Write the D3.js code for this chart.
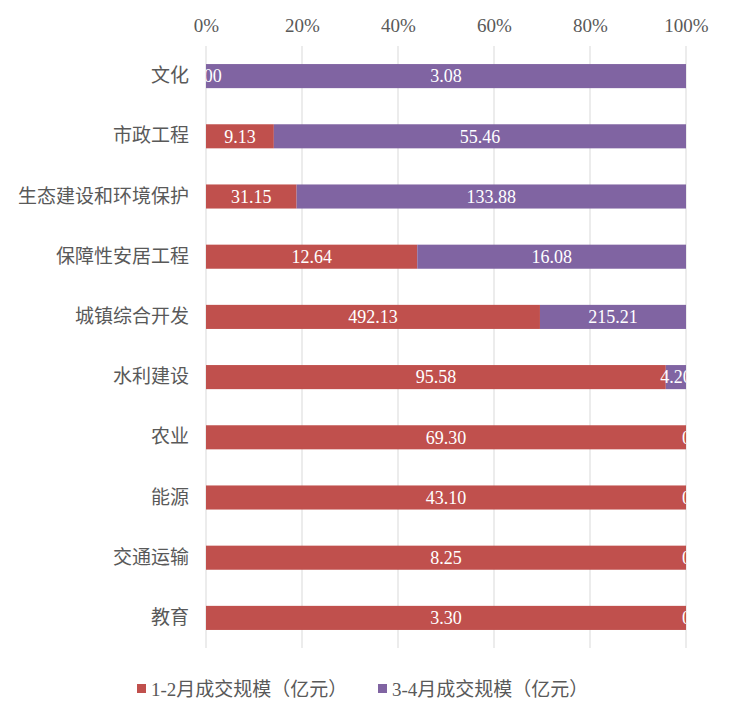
<!DOCTYPE html>
<html><head><meta charset="utf-8">
<script src="https://cdn.jsdelivr.net/npm/d3@7"></script>
<style>body{margin:0;background:#fff}</style>
</head><body>
<svg id="c" width="732" height="720"></svg>
<script>
const categories = ["文化","市政工程","生态建设和环境保护","保障性安居工程","城镇综合开发","水利建设","农业","能源","交通运输","教育"];
const seriesNames = ["1-2月成交规模（亿元）","3-4月成交规模（亿元）"];
const s1 = [0.00, 9.13, 31.15, 12.64, 492.13, 95.58, 69.30, 43.10, 8.25, 3.30];
const s2 = [3.08, 55.46, 133.88, 16.08, 215.21, 4.20, 0.00, 0.00, 0.00, 0.00];
const tickValues = [0, 0.2, 0.4, 0.6, 0.8, 1];
const colors = ["#C0504D", "#8064A2"];

(function(){
const font = "'Liberation Serif','Noto Sans CJK SC',serif";
const svg = d3.select("#c");
const pL = 206, pR = 686, pT = 46, pB = 648;
const x = d3.scaleLinear().domain([0,1]).range([pL,pR]);
const y = d3.scaleBand().domain(categories).range([pT,pB]).paddingInner(0.6).paddingOuter(0.3);

svg.append("g").selectAll("line").data(tickValues).join("line")
  .attr("x1", d=>x(d)).attr("x2", d=>x(d)).attr("y1", pT).attr("y2", pB)
  .attr("stroke", "#d9d9d9").attr("stroke-width", 1);

const ax = svg.append("g").attr("transform", `translate(0,32)`)
  .call(d3.axisTop(x).tickValues(tickValues).tickFormat(d3.format(".0%")).tickSize(0).tickPadding(0));
ax.select(".domain").remove();
ax.selectAll("text").attr("font-family", font).attr("font-size", 19).attr("fill", "#595959").attr("dy", "0");

const ay = svg.append("g").attr("transform", `translate(${pL-17},0)`)
  .call(d3.axisLeft(y).tickSize(0).tickPadding(0));
ay.select(".domain").remove();
ay.selectAll("text").attr("font-family", font).attr("font-size", 19).attr("fill", "#595959");

const rows = categories.map((c,i)=>{
  const t = s1[i]+s2[i];
  return {c, v:[s1[i], s2[i]], p:[s1[i]/t, s2[i]/t]};
});

svg.append("defs").append("clipPath").attr("id","plot")
  .append("rect").attr("x", pL).attr("y", pT).attr("width", pR-pL).attr("height", pB-pT);

const bars = svg.append("g");
const labels = svg.append("g").attr("clip-path","url(#plot)");
rows.forEach(r=>{
  let acc = 0;
  r.p.forEach((p,k)=>{
    const x0 = x(acc), x1 = x(acc+p);
    if (p>0) bars.append("rect").attr("x", x0).attr("y", y(r.c)).attr("width", x1-x0)
      .attr("height", y.bandwidth()).attr("fill", colors[k]);
    const atEnd = p===0 && k===r.p.length-1;
    labels.append("text").attr("x", atEnd ? x1-4 : (x0+x1)/2).attr("y", y(r.c)+y.bandwidth()/2)
      .attr("dy","0.35em").attr("text-anchor", atEnd ? "start" : "middle")
      .attr("font-family", font).attr("font-size", 18).attr("fill","#fff")
      .text(r.v[k].toFixed(2));
    acc += p;
  });
});

const lg = svg.append("g");
const legX = [137, 378];
seriesNames.forEach((n,k)=>{
  lg.append("rect").attr("x", legX[k]).attr("y", 684).attr("width", 9).attr("height", 9).attr("fill", colors[k]);
  lg.append("text").attr("x", legX[k]+14).attr("y", 689).attr("dy","0.35em")
    .attr("font-family", font).attr("font-size", 19).attr("fill","#595959").text(n);
});
})();
</script>
</body></html>
